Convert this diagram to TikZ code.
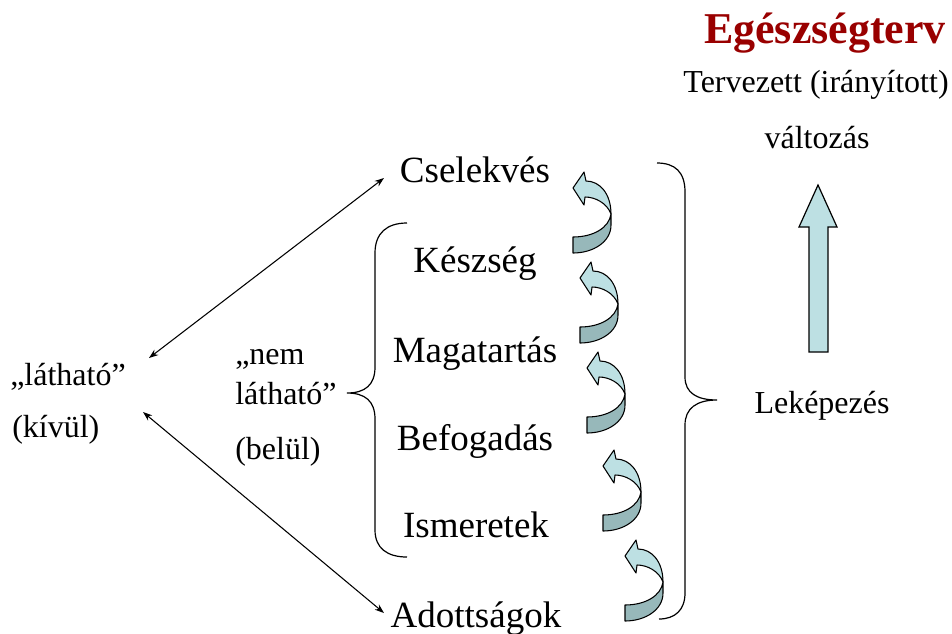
\documentclass[tikz,border=0pt]{standalone}
\usepackage{fontspec}
\setmainfont{Liberation Serif}
\usetikzlibrary{arrows.meta}
\definecolor{titlered}{HTML}{990000}
\definecolor{lightband}{HTML}{BDE0E3}
\definecolor{darkband}{HTML}{97B8BA}
\tikzset{
  big/.style={font=\fontsize{27.75}{33}\selectfont, inner sep=0pt, anchor=base},
  mid/.style={font=\fontsize{24}{29}\selectfont, inner sep=0pt, anchor=base},
  leftmid/.style={mid, anchor=base west},
  titletext/.style={font=\fontsize{33}{39}\selectfont\bfseries, text=titlered, inner sep=0pt, anchor=base},
  link/.style={line width=0.8pt, {Stealth[length=7pt,width=5pt]}-{Stealth[length=7pt,width=5pt]}},
  bracestyle/.style={line width=0.9pt},
  curvarrow/.pic={
    \draw[fill=darkband, line width=0.8pt, line join=round]
      (38,42) -- (38,53) .. controls (38,70) and (20,81) .. (0,81) -- (0,65)
      .. controls (20,65) and (36,56) .. (38,42) -- cycle;
    \draw[fill=lightband, line width=0.8pt, line join=round]
      (0,16) -- (11,0) -- (13,9) .. controls (27,9) and (38,22) .. (38,42)
      .. controls (34,31) and (22,25) .. (12,25) -- (11,33) -- cycle;
  }
}
\begin{document}
\begin{tikzpicture}[x=0.75pt,y=-0.75pt]
\useasboundingbox (0,0) rectangle (952,633);

% title and right column
\node[titletext] (title) at (825,43) {Egészségterv};
\node[mid] (plan1) at (816,92) {Tervezett (irányított)};
\node[mid] (plan2) at (817,148) {változás};
\node[mid] (lek) at (822,413) {Leképezés};

% big up arrow
\draw[fill=lightband, line width=0.9pt, line join=miter]
  (818,185) -- (837,227) -- (828,227) -- (828,352) -- (809,352) -- (809,227) -- (799,227) -- cycle;

% middle column
\node[big] (csel) at (475,182) {Cselekvés};
\node[big] (kesz) at (475,272) {Készség};
\node[big] (maga) at (475,362) {Magatartás};
\node[big] (befo) at (475,450) {Befogadás};
\node[big] (isme) at (476,537) {Ismeretek};
\node[big] (adot) at (476,627) {Adottságok};

% left texts
\node[leftmid] (lat) at (10,385) {„látható”};
\node[leftmid] (kiv) at (12,437) {(kívül)};
\node[leftmid] (nem) at (235,364) {„nem};
\node[leftmid] (nlat) at (235,404) {látható”};
\node[leftmid] (bel) at (235,459) {(belül)};

% connectors
\coordinate (l1) at (149,358);
\coordinate (c1) at (384,178);
\coordinate (l2) at (143,412);
\coordinate (a2) at (384,613);
\draw[link] (l1) -- (c1);
\draw[link] (l2) -- (a2);

% left brace
\draw[bracestyle] (407,223) .. controls (387,223) and (375,233) .. (375,253)
  -- (375,367) .. controls (375,385) and (365,393) .. (347,393)
  .. controls (365,393) and (375,401) .. (375,419)
  -- (375,530) .. controls (375,548) and (387,557) .. (407,557);

% right brace
\draw[bracestyle] (657,163) .. controls (675,163) and (685,172) .. (685,192)
  -- (685,377) .. controls (685,393) and (697,400) .. (717,400)
  .. controls (697,400) and (685,408) .. (685,425)
  -- (685,593) .. controls (685,610) and (675,619) .. (659,619);

% curved arrows
\pic at (573,172) {curvarrow};
\pic at (580,262) {curvarrow};
\pic at (587,352) {curvarrow};
\pic at (603,450) {curvarrow};
\pic at (625,540) {curvarrow};
\end{tikzpicture}
\end{document}
